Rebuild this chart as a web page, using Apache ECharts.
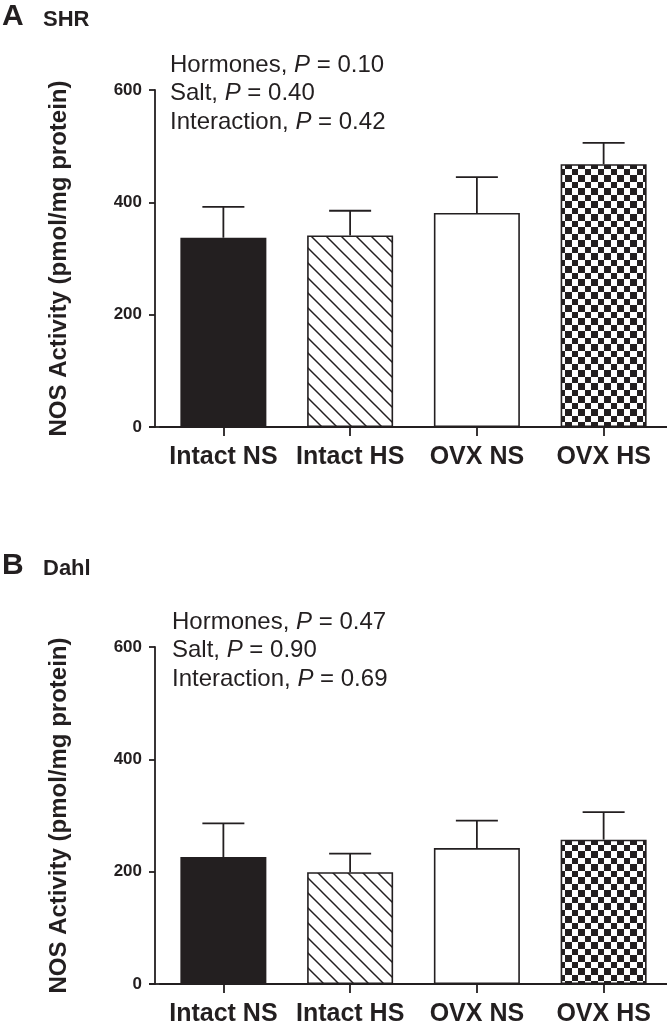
<!DOCTYPE html>
<html><head><meta charset="utf-8">
<script src="https://cdn.jsdelivr.net/npm/echarts@6/dist/echarts.min.js"></script>
<style>html,body{margin:0;padding:0;background:#fff}#c{width:667px;height:1028px}</style>
</head><body><div id="c"></div>
<script>
// ---- data ----
const categories = ['Intact NS', 'Intact HS', 'OVX NS', 'OVX HS'];
const shrMean = [337, 341, 381, 468];
const shrSem  = [55, 44, 64, 38];
const dahlMean = [226, 199, 242, 257];
const dahlSem  = [60, 33, 49, 49];
const statNames = ['Hormones', 'Salt', 'Interaction'];
const shrP  = ['0.10', '0.40', '0.42'];
const dahlP = ['0.47', '0.90', '0.69'];
const yMin = 0, yMax = 600, yStep = 200;
const yName = 'NOS Activity (pmol/mg protein)';

// ---- style ----
const INK = '#231f20';
const FONT = "'Liberation Sans', Arial, Helvetica, sans-serif";

function hatchCanvas() {
  const s = 15, c = document.createElement('canvas');
  c.width = c.height = s;
  const g = c.getContext('2d');
  g.fillStyle = '#fff'; g.fillRect(0, 0, s, s);
  g.strokeStyle = INK; g.lineWidth = 1.5;
  for (const k of [-s, 0, s]) {
    g.beginPath(); g.moveTo(k - 2, -2); g.lineTo(k + s + 2, s + 2); g.stroke();
  }
  return c;
}
function checkerCanvas() {
  const c = document.createElement('canvas');
  c.width = c.height = 13;
  const g = c.getContext('2d');
  g.fillStyle = '#fff'; g.fillRect(0, 0, 13, 13);
  g.fillStyle = INK;
  g.fillRect(0, 0, 6, 6); g.fillRect(6, 6, 7, 7);
  return c;
}
const fills = [INK, {image: hatchCanvas(), repeat: 'repeat'}, '#ffffff', {image: checkerCanvas(), repeat: 'repeat'}];

const grids = [
  {left: 160, right: 0, top: 90, height: 337},
  {left: 160, right: 0, top: 647, height: 337}
];

function yAxisFor(i) {
  return {
    type: 'value', gridIndex: i, min: yMin, max: yMax, interval: yStep, offset: 5,
    axisLine: {show: true, lineStyle: {color: INK, width: 1.8}},
    axisTick: {show: true, length: 6, lineStyle: {color: INK, width: 1.8}},
    axisLabel: {color: INK, fontFamily: FONT, fontWeight: 'bold', fontSize: 17, margin: 13},
    splitLine: {show: false},
    name: yName, nameLocation: 'middle', nameRotate: 90, nameGap: 84,
    nameTextStyle: {color: INK, fontFamily: FONT, fontWeight: 'bold', fontSize: 24}
  };
}
function xAxisFor(i) {
  return {
    type: 'category', gridIndex: i, data: categories,
    axisLine: {show: true, lineStyle: {color: INK, width: 1.8}},
    axisTick: {show: true, alignWithLabel: true, length: 9, lineStyle: {color: INK, width: 1.8}},
    axisLabel: {interval: 0, color: INK, fontFamily: FONT, fontWeight: 'bold', fontSize: 25, margin: 18}
  };
}
function barSeries(i, means) {
  return {
    type: 'bar', xAxisIndex: i, yAxisIndex: i, barWidth: 86, z: 2,
    data: means.map((v, k) => ({value: v, itemStyle: {color: fills[k], borderColor: INK, borderWidth: 1.6}}))
  };
}
function errSeries(i, means, sems) {
  return {
    type: 'custom', xAxisIndex: i, yAxisIndex: i, z: 3,
    data: means.map((v, k) => [k, v, sems[k]]),
    renderItem: function (params, api) {
      const base = api.coord([api.value(0), api.value(1)]);
      const top = api.coord([api.value(0), api.value(1) + api.value(2)]);
      const half = 21;
      const st = {stroke: INK, lineWidth: 1.8};
      return {type: 'group', children: [
        {type: 'line', shape: {x1: base[0], y1: base[1], x2: top[0], y2: top[1]}, style: st},
        {type: 'line', shape: {x1: top[0] - half, y1: top[1], x2: top[0] + half, y2: top[1]}, style: st}
      ]};
    }
  };
}
function statsText(ps) {
  return statNames.map((n, k) => n + ', {i|P} = ' + ps[k]).join('\n');
}
const statStyle = {
  color: INK, fontFamily: FONT, fontWeight: 'normal', fontSize: 24, lineHeight: 28.5,
  rich: {i: {color: INK, fontFamily: FONT, fontStyle: 'italic', fontSize: 24, lineHeight: 28.5}}
};
const letterStyle = {color: INK, fontFamily: FONT, fontWeight: 'bold', fontSize: 30};
const strainStyle = {color: INK, fontFamily: FONT, fontWeight: 'bold', fontSize: 22};

const chart = echarts.init(document.getElementById('c'), null, {renderer: 'canvas'});
const extLines = grids.map(g => ({
  type: 'line', shape: {x1: 149, y1: g.top + g.height, x2: g.left + 1, y2: g.top + g.height},
  style: {stroke: INK, lineWidth: 1.8}
}));
chart.setOption({
  animation: false,
  backgroundColor: '#fff',
  grid: grids,
  xAxis: [xAxisFor(0), xAxisFor(1)],
  yAxis: [yAxisFor(0), yAxisFor(1)],
  title: [
    {text: 'A', left: 2, top: 2, padding: 0, textStyle: letterStyle},
    {text: 'SHR', left: 43, top: 9, padding: 0, textStyle: strainStyle},
    {text: statsText(shrP), left: 170, top: 51, padding: 0, textStyle: statStyle},
    {text: 'B', left: 2, top: 551, padding: 0, textStyle: letterStyle},
    {text: 'Dahl', left: 43, top: 558, padding: 0, textStyle: strainStyle},
    {text: statsText(dahlP), left: 172, top: 608, padding: 0, textStyle: statStyle}
  ],
  graphic: extLines,
  series: [
    barSeries(0, shrMean), errSeries(0, shrMean, shrSem),
    barSeries(1, dahlMean), errSeries(1, dahlMean, dahlSem)
  ]
});
</script>
</body></html>
